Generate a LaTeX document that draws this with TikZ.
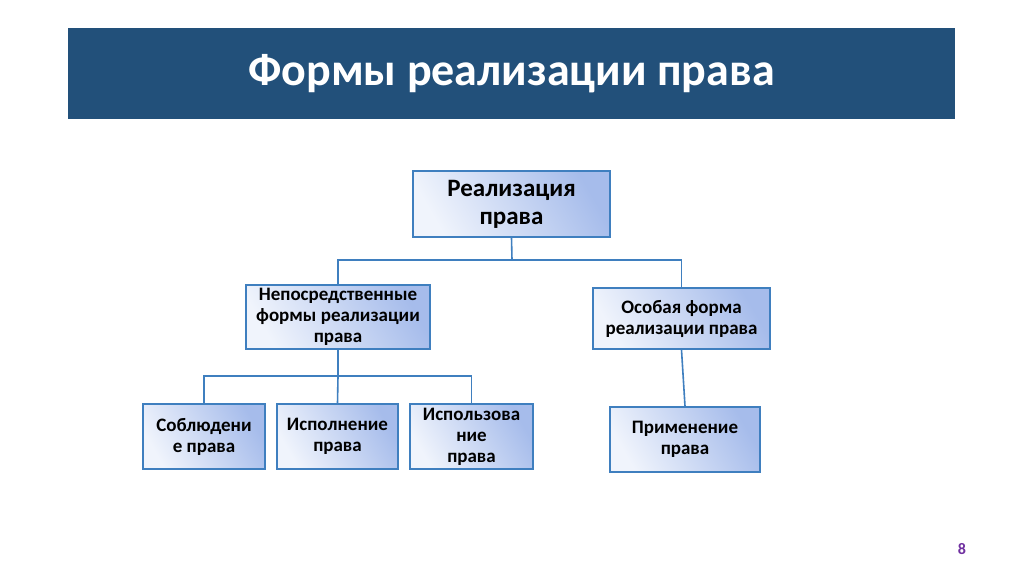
\documentclass[tikz,border=0pt]{standalone}
\usepackage{fontspec}
\setmainfont{Carlito}
\definecolor{bar}{HTML}{22507A}
\definecolor{bord}{HTML}{3F7FBF}
\definecolor{gA}{HTML}{F0F4FC}
\definecolor{gB}{HTML}{A6BCEB}
\definecolor{num}{HTML}{7030A0}
\begin{document}
\begin{tikzpicture}[x=1pt,y=-1pt,
  box/.style={draw=bord,line width=1.6pt,left color=gA,right color=gB,shading angle=120,align=center,font=\bfseries\fontsize{19}{21}\selectfont,inner sep=0pt},
  link/.style={draw=bord,line width=1.6pt}]
\useasboundingbox (0,0) rectangle (1024,574);
\fill[white] (0,0) rectangle (1024,574);
\node[fill=bar,minimum width=887pt,minimum height=91pt,inner sep=0pt,text=white,font=\bfseries\fontsize{46}{50}\selectfont] (title) at (511.5,73.5) {Формы реализации права};
\node[box,minimum width=197pt,minimum height=66pt,font=\bfseries\fontsize{25}{28}\selectfont] (real) at (511.5,204) {Реализация\\права};
\node[box,minimum width=184pt,minimum height=64pt] (nep) at (338,317) {Непосредственные\\формы реализации\\права};
\node[box,minimum width=177pt,minimum height=61pt] (osob) at (681.5,318.5) {Особая форма\\реализации права};
\node[box,minimum width=122pt,minimum height=65pt] (sobl) at (204,436.5) {Соблюдени\\е права};
\node[box,minimum width=121pt,minimum height=65pt] (isp) at (337.5,436.5) {Исполнение\\права};
\node[box,minimum width=123pt,minimum height=65pt] (ispz) at (471.5,436.5) {Использова\\ние\\права};
\node[box,minimum width=150pt,minimum height=65pt] (prim) at (685,439.5) {Применение\\права};
\node[text=num,font=\bfseries\fontsize{16}{18}\selectfont] (pg) at (962,549) {8};
\draw[link] (real.south) -- (512,260) -| (nep.north);
\draw[link] (512,260) -| (osob.north);
\draw[link] (nep.south) -- (338,376) -| (sobl.north);
\draw[link] (338,376) -| (ispz.north);
\draw[link] (338,376) -- (isp.north);
\draw[link] (osob.south) -- (prim.north);
\end{tikzpicture}
\end{document}
